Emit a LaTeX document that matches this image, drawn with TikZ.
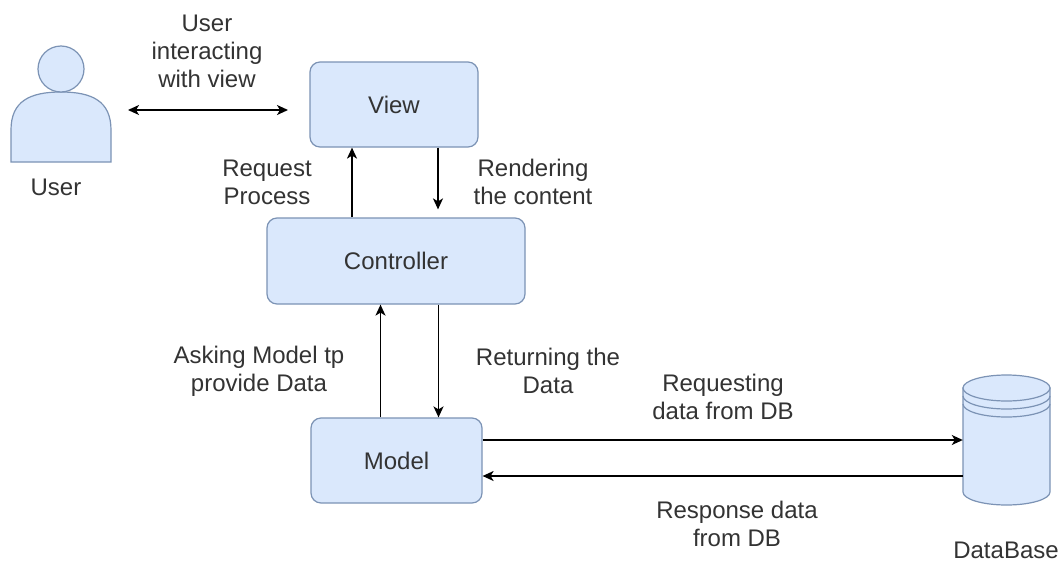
\documentclass[tikz,border=0pt]{standalone}
\usepackage{fontspec}
\setmainfont{Liberation Sans}
\usetikzlibrary{arrows.meta}
\definecolor{boxfill}{HTML}{DAE8FC}
\definecolor{boxline}{HTML}{7C93B5}
\definecolor{txt}{HTML}{333333}
\tikzset{
  box/.style={draw=boxline, fill=boxfill, line width=1.2pt, rounded corners=10pt, text=txt, font=\fontsize{24}{28}\selectfont, inner sep=0pt},
  lbl/.style={text=txt, font=\fontsize{24}{28}\selectfont, align=center, inner sep=0pt},
  shapeline/.style={draw=boxline, fill=boxfill, line width=1.2pt},
  arr/.style={draw=black, line width=1.6pt, -{Stealth[length=11pt, width=10pt, inset=3pt]}},
  darr/.style={draw=black, line width=1.6pt, {Stealth[length=11pt, width=10pt, inset=3pt]}-{Stealth[length=11pt, width=10pt, inset=3pt]}}
}
\begin{document}
\begin{tikzpicture}[x=1pt, y=-1pt]
\useasboundingbox[fill=white] (0,0) rectangle (1062,565);

% user icon
\path[shapeline] (11,162) -- (11,130) .. controls (11,101) and (30,92) .. (61,92) .. controls (92,92) and (111,101) .. (111,130) -- (111,162) -- cycle;
\path[shapeline] (61,69) circle[radius=23];
\node[minimum width=100pt, minimum height=116pt, inner sep=0pt] (user) at (61,104) {};
\node[lbl] (userlbl) at (56,187) {User};

% boxes
\node[box, minimum width=168pt, minimum height=85pt] (view) at (394,104.5) {View};
\node[box, minimum width=258pt, minimum height=86pt] (ctrl) at (396,261) {Controller};
\node[box, minimum width=171pt, minimum height=85pt] (model) at (396.5,460.5) {Model};

% database
\node[minimum width=87pt, minimum height=130pt, inner sep=0pt] (db) at (1006.5,440) {};
\path[shapeline] (963,388) -- (963,492) .. controls (963,499.2) and (982.5,505) .. (1006.5,505) .. controls (1030.5,505) and (1050,499.2) .. (1050,492) -- (1050,388) -- cycle;
\path[shapeline] (1006.5,388) ellipse[x radius=43.5, y radius=13];
\draw[boxline, line width=1.2pt] (963,396) .. controls (963,403.2) and (982.5,409) .. (1006.5,409) .. controls (1030.5,409) and (1050,403.2) .. (1050,396);
\draw[boxline, line width=1.2pt] (963,404) .. controls (963,411.2) and (982.5,417) .. (1006.5,417) .. controls (1030.5,417) and (1050,411.2) .. (1050,404);
\node[lbl] (dblbl) at (1006,550) {DataBase};

% connectors
\coordinate (uend) at (128,110);
\coordinate (vend) at (288,110);
\draw[darr] (uend) -- (vend);
\draw[arr] ([xshift=-44pt]ctrl.north) -- ([xshift=-44pt]ctrl.north |- view.south);
\draw[arr] ([xshift=44pt]view.south) -- ([xshift=44pt, yshift=8pt]view.south |- ctrl.north);
\draw[arr] ([xshift=-16pt]model.north) -- ([xshift=-16pt]model.north |- ctrl.south);
\draw[arr] ([xshift=42.5pt]ctrl.south) -- ([xshift=42.5pt]ctrl.south |- model.north);
\draw[arr] ([yshift=20.5pt]model.east) -- ([yshift=20.5pt]model.east -| db.west);
\draw[arr] ([yshift=-15.5pt]model.east -| db.west) -- ([yshift=-15.5pt]model.east);

% labels
\node[lbl] (l1) at (207,51) {User\\interacting\\with view};
\node[lbl] (l2) at (267,182) {Request\\Process};
\node[lbl] (l3) at (533,182) {Rendering\\the content};
\node[lbl] (l4) at (259,371) {Asking Model tp\\provide Data};
\node[lbl] (l5) at (548,371) {Returning the\\Data};
\node[lbl] (l6) at (723,397) {Requesting\\data from DB};
\node[lbl] (l7) at (737,524) {Response data\\from DB};
\end{tikzpicture}
\end{document}
